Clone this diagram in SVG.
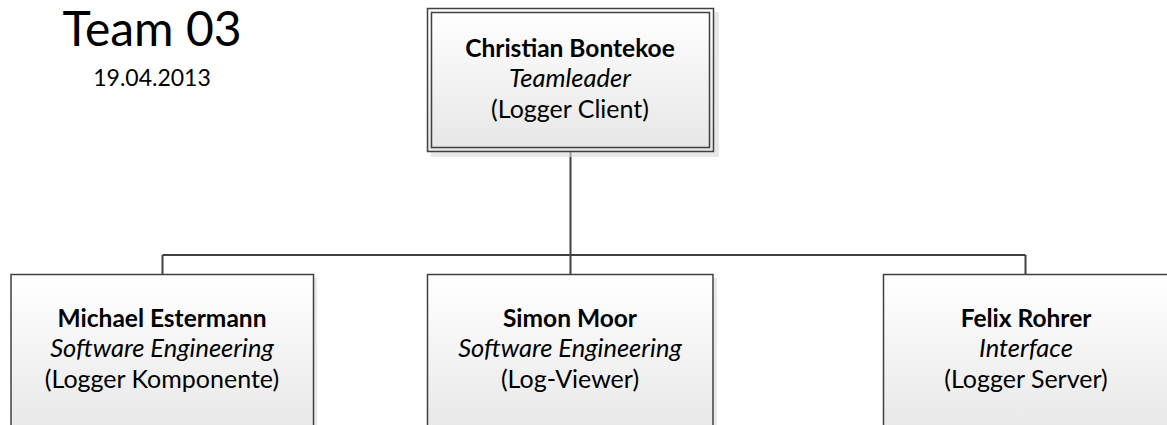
<svg xmlns="http://www.w3.org/2000/svg" width="1167" height="425" viewBox="0 0 1167 425">
  <defs>
    <linearGradient id="boxFill" x1="0" y1="0" x2="0" y2="1">
      <stop offset="0" stop-color="#ffffff"/>
      <stop offset="1" stop-color="#e6e6e6"/>
    </linearGradient>
    <style>
      .frame { fill: url(#boxFill); stroke: #404040; stroke-width: 1.5; }
      .inner { fill: none; stroke: #404040; stroke-width: 1.5; }
      .shadow { fill: #d9d9d9; opacity: 0.6; }
      .link { fill: none; stroke: #404040; stroke-width: 2; }
      text { font-family: Lato, "Liberation Sans", sans-serif; fill: #000; text-anchor: middle; }
      .name { font-weight: bold; font-size: 24.5px; }
      .role { font-style: italic; font-size: 25.5px; }
      .unit { font-size: 25px; }
      .title { font-size: 48px; }
      .date { font-size: 23px; }
    </style>
  </defs>

  <!-- header -->
  <g id="header">
    <text class="title" x="152" y="46">Team 03</text>
    <text class="date" x="152" y="86">19.04.2013</text>
  </g>

  <!-- org chart lines -->
  <g id="connectors">
    <path class="link" d="M570.5 152 V255"/>
    <path class="link" d="M162.5 255 H1025.5"/>
    <path class="link" d="M162.5 255 V274"/>
    <path class="link" d="M570.5 255 V274"/>
    <path class="link" d="M1025.5 255 V274"/>
  </g>

  <!-- team leader -->
  <g id="node-bontekoe">
    <rect class="shadow" x="431" y="12" width="288" height="145"/>
    <rect class="frame" x="427.5" y="8.5" width="286" height="143"/>
    <rect class="inner" x="431.5" y="12.5" width="278" height="135"/>
    <text class="name" x="570" y="56.5">Christian Bontekoe</text>
    <text class="role" x="570" y="87">Teamleader</text>
    <text class="unit" x="570" y="117.5">(Logger Client)</text>
  </g>

  <!-- members -->
  <g id="node-estermann">
    <rect class="shadow" x="15" y="278" width="302" height="170"/>
    <rect class="frame" x="11" y="274.5" width="302.5" height="170"/>
    <text class="name" x="162" y="326.5">Michael Estermann</text>
    <text class="role" x="162" y="357">Software Engineering</text>
    <text class="unit" x="162" y="387.5">(Logger Komponente)</text>
  </g>

  <g id="node-moor">
    <rect class="shadow" x="431" y="278" width="286" height="170"/>
    <rect class="frame" x="427.5" y="274.5" width="285.5" height="170"/>
    <text class="name" x="570" y="326.5">Simon Moor</text>
    <text class="role" x="570" y="357">Software Engineering</text>
    <text class="unit" x="570" y="387.5">(Log-Viewer)</text>
  </g>

  <g id="node-rohrer">
    <rect class="frame" x="883.5" y="274.5" width="300" height="170"/>
    <text class="name" x="1026" y="326.5">Felix Rohrer</text>
    <text class="role" x="1026" y="357">Interface</text>
    <text class="unit" x="1026" y="387.5">(Logger Server)</text>
  </g>
</svg>
